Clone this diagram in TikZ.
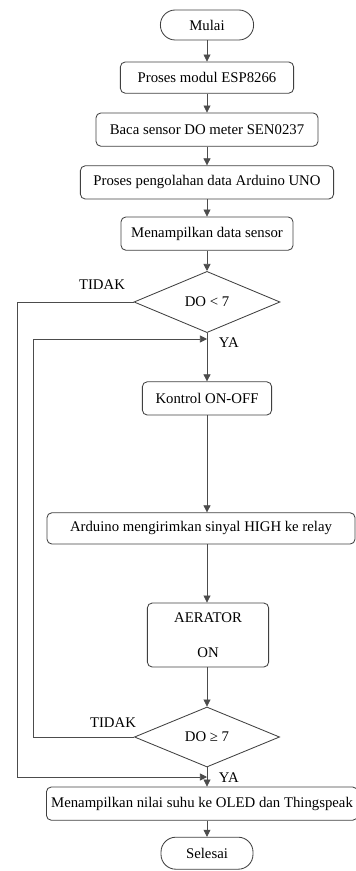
\documentclass[tikz,border=0pt]{standalone}
\usepackage{fontspec}
\setmainfont{Liberation Serif}
\usetikzlibrary{arrows.meta,shapes.geometric,calc}
\tikzstyle{startstop} = [rectangle, rounded corners=0.37cm, minimum width=2.33cm, minimum height=0.75cm, text centered, draw=black!75, line width=0.6pt, font=\fontsize{10.5}{12}\selectfont]
\tikzstyle{process} = [rectangle, rounded corners=0.12cm, minimum height=0.8cm, text centered, draw=black!75, line width=0.6pt, font=\fontsize{10.5}{12}\selectfont]
\tikzstyle{decision} = [diamond, inner sep=0pt, text centered, draw=black!75, line width=0.6pt, font=\fontsize{10.5}{12}\selectfont]
\tikzstyle{label} = [font=\fontsize{10.5}{12}\selectfont]
\tikzstyle{arrow} = [line width=0.5pt, draw=black!70, -{Triangle[width=5pt,length=5pt]}]

\begin{document}
\begin{tikzpicture}
\useasboundingbox (0,0) rectangle (8.9,-21.775);
\draw (5.175,-0.625) node (mulai) [startstop] {Mulai};
\draw (5.175,-1.94) node (esp) [process, minimum width=4.33cm, minimum height=0.78cm] {Proses modul ESP8266};
\draw (5.175,-3.24) node (baca) [process, minimum width=5.55cm, minimum height=0.83cm] {Baca sensor DO meter SEN0237};
\draw (5.175,-4.56) node (olah) [process, minimum width=6.33cm, minimum height=0.83cm] {Proses pengolahan data Arduino UNO};
\draw (5.175,-5.84) node (tampil) [process, minimum width=4.3cm, minimum height=0.83cm] {Menampilkan data sensor};
\draw (5.175,-7.55) node (cek1) [decision, minimum width=3.65cm, minimum height=1.53cm] {DO < 7};
\draw (5.175,-9.96) node (kontrol) [process, minimum width=3.23cm, minimum height=0.83cm] {Kontrol ON-OFF};
\draw (5.025,-13.21) node (relay) [process, minimum width=7.7cm, minimum height=0.78cm] {Arduino mengirimkan sinyal HIGH ke relay};
\draw (5.2,-15.875) node (aerator) [process, minimum width=3.03cm, minimum height=1.6cm, align=center] {AERATOR\\[0.45cm]ON};
\draw (5.175,-18.425) node (cek2) [decision, minimum width=3.63cm, minimum height=1.5cm] {DO ≥ 7};
\draw (5.05,-20.09) node (oled) [process, minimum width=7.75cm, minimum height=0.83cm] {Menampilkan nilai suhu ke OLED dan Thingspeak};
\draw (5.175,-21.33) node (selesai) [startstop, minimum width=2.3cm, minimum height=0.8cm] {Selesai};
%
\coordinate (ya1) at (5.175,-8.475);
\coordinate (ya2) at (5.175,-19.425);
\coordinate (kiri1) at (0.425,0);
\coordinate (kiri2) at (0.825,0);
%
\draw [arrow] (mulai) -- (esp);
\draw [arrow] (esp) -- (baca);
\draw [arrow] (baca) -- (olah);
\draw [arrow] (olah) -- (tampil);
\draw [arrow] (tampil) -- (cek1);
\draw [arrow] (cek1) -- (kontrol);
\draw [arrow] (kontrol) -- (kontrol |- relay.north);
\draw [arrow] (kontrol |- relay.south) -- (kontrol |- aerator.north);
\draw [arrow] (kontrol |- aerator.south) -- (cek2);
\draw [arrow] (cek2) -- (cek2 |- oled.north);
\draw [arrow] (cek2 |- oled.south) -- (selesai);
\draw [arrow] (cek1.west) -| (kiri1 |- ya2) -- (ya2);
\draw [arrow] (cek2.west) -| (kiri2 |- ya1) -- (ya1);
%
\node (tidak1) [label] at (2.55,-7.125) {TIDAK};
\node (ya1lbl) [label, anchor=west] at (5.35,-8.575) {YA};
\node (tidak2) [label] at (2.825,-18.075) {TIDAK};
\node (ya2lbl) [label, anchor=west] at (5.35,-19.45) {YA};
\end{tikzpicture}
\end{document}
